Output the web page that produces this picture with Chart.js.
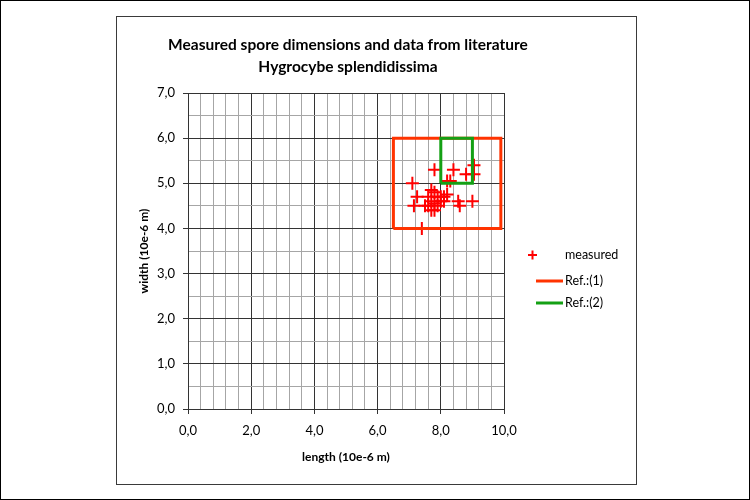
<!DOCTYPE html>
<html>
<head>
<meta charset="utf-8">
<script src="https://cdn.jsdelivr.net/npm/chart.js@4"></script>
<style>
  html, body { margin: 0; padding: 0; background: #fff; }
  #wrap { width: 750px; height: 500px; position: relative; }
</style>
</head>
<body>
<div id="wrap"><canvas id="chart" width="750" height="500"></canvas></div>
<script>
// spore measurements, length / width in 10e-6 m
const measuredLength = [7.1, 7.25, 7.15, 7.4, 7.8, 8.4, 8.8, 9.05, 9.05, 8.2, 8.3,
    7.7, 7.8, 7.6, 7.9, 8.0, 8.1, 8.2, 7.5, 7.6, 7.7, 7.8, 7.9, 8.0, 8.1, 7.7, 7.8,
    8.55, 8.6, 9.0];
const measuredWidth = [5.0, 4.7, 4.5, 4.0, 5.3, 5.3, 5.2, 5.4, 5.2, 5.05, 5.05,
    4.85, 4.8, 4.7, 4.7, 4.7, 4.7, 4.75, 4.5, 4.5, 4.4, 4.4, 4.5, 4.6, 4.6, 4.6, 4.55,
    4.6, 4.5, 4.6];

// literature ranges: [min length, max length], [min width, max width]
const ref1Length = [6.5, 9.9];
const ref1Width = [4.0, 6.0];
const ref2Length = [8.0, 9.0];
const ref2Width = [5.0, 6.0];

const xTicks = [0, 2, 4, 6, 8, 10];
const yTicks = [0, 1, 2, 3, 4, 5, 6, 7];

const titleLines = ['Measured spore dimensions and data from literature', 'Hygrocybe splendidissima'];
const seriesNames = ['measured', 'Ref.:(1)', 'Ref.:(2)'];

const RED = '#ff0000';
const REF1 = '#ff3300';
const REF2 = '#14a014';
const FONT = 'Lato, "Open Sans", sans-serif';

function box(len, wid) {
    return [
        { x: len[0], y: wid[0] }, { x: len[1], y: wid[0] },
        { x: len[1], y: wid[1] }, { x: len[0], y: wid[1] },
        { x: len[0], y: wid[0] }
    ];
}

const isMajor = (v, step) => Math.abs(v / step - Math.round(v / step)) < 1e-6;
const fmt = v => v.toFixed(1).replace('.', ',');

// frame, title and legend drawn around the plot
const decorations = {
    id: 'decorations',
    beforeDraw(chart) {
        const ctx = chart.ctx;
        ctx.save();
        ctx.fillStyle = '#fff';
        ctx.fillRect(0, 0, 750, 500);
        ctx.strokeStyle = '#000';
        ctx.lineWidth = 1;
        ctx.strokeRect(0.5, 0.5, 749, 499);
        ctx.strokeStyle = '#3a3a3a';
        ctx.strokeRect(116.5, 16.5, 520, 468);
        ctx.restore();
    },
    afterDraw(chart) {
        const ctx = chart.ctx;
        const area = chart.chartArea;
        const cx = (area.left + area.right) / 2 + 2;
        ctx.save();
        ctx.fillStyle = '#000';
        ctx.font = 'bold 15.5px ' + FONT;
        ctx.textAlign = 'center';
        ctx.textBaseline = 'middle';
        ctx.fillText(titleLines[0], cx, 45);
        ctx.fillText(titleLines[1], cx, 67);

        // legend
        ctx.font = '12.5px ' + FONT;
        ctx.textAlign = 'left';
        const ly = [255, 281, 303];
        ctx.strokeStyle = RED;
        ctx.lineWidth = 2;
        ctx.beginPath();
        ctx.moveTo(528, ly[0]); ctx.lineTo(537, ly[0]);
        ctx.moveTo(532.5, ly[0] - 4.5); ctx.lineTo(532.5, ly[0] + 4.5);
        ctx.stroke();
        ctx.lineWidth = 3;
        ctx.strokeStyle = REF1;
        ctx.beginPath(); ctx.moveTo(536, ly[1]); ctx.lineTo(563, ly[1]); ctx.stroke();
        ctx.strokeStyle = REF2;
        ctx.beginPath(); ctx.moveTo(536, ly[2]); ctx.lineTo(563, ly[2]); ctx.stroke();
        ctx.fillStyle = '#000';
        ctx.fillText(seriesNames[0], 565, ly[0]);
        ctx.fillText(seriesNames[1], 565, ly[1]);
        ctx.fillText(seriesNames[2], 565, ly[2]);
        ctx.restore();
    }
};

const ctx = document.getElementById('chart').getContext('2d');
new Chart(ctx, {
    type: 'scatter',
    data: {
        datasets: [
            {
                label: seriesNames[0],
                data: measuredLength.map((x, i) => ({ x: x, y: measuredWidth[i] })),
                pointStyle: 'cross',
                pointRadius: 6.5,
                pointBorderWidth: 2,
                borderColor: RED,
                backgroundColor: RED,
                order: 3
            },
            {
                label: seriesNames[1],
                data: box(ref1Length, ref1Width),
                showLine: true,
                borderColor: REF1,
                borderWidth: 3,
                pointRadius: 0,
                order: 2
            },
            {
                label: seriesNames[2],
                data: box(ref2Length, ref2Width),
                showLine: true,
                borderColor: REF2,
                borderWidth: 3,
                pointRadius: 0,
                order: 1
            }
        ]
    },
    plugins: [decorations],
    options: {
        responsive: false,
        animation: false,
        layout: {
            padding: { left: 137, right: 246, top: 93, bottom: 36 }
        },
        plugins: {
            legend: { display: false },
            title: { display: false },
            tooltip: { enabled: false }
        },
        scales: {
            x: {
                type: 'linear',
                min: xTicks[0],
                max: xTicks[xTicks.length - 1],
                afterFit: scale => { scale.height = 55; },
                ticks: {
                    stepSize: 0.4,
                    autoSkip: false,
                    maxRotation: 0,
                    padding: 9,
                    color: '#000',
                    font: { family: FONT, size: 13 },
                    callback: v => (isMajor(v, 2) ? fmt(v) : '')
                },
                grid: {
                    color: c => (isMajor(c.tick.value, 2) ? '#333' : '#a6a6a6'),
                    tickColor: c => (isMajor(c.tick.value, 2) ? '#333' : 'rgba(0,0,0,0)'),
                    tickLength: 5,
                    lineWidth: 1
                },
                border: { color: '#333', width: 1 },
                title: {
                    display: true,
                    text: 'length (10e-6 m)',
                    color: '#000',
                    font: { family: FONT, size: 12, weight: 'bold' },
                    padding: 0
                }
            },
            y: {
                type: 'linear',
                min: yTicks[0],
                max: yTicks[yTicks.length - 1],
                afterFit: scale => { scale.width = 51; },
                ticks: {
                    stepSize: 0.5,
                    autoSkip: false,
                    padding: 8,
                    color: '#000',
                    font: { family: FONT, size: 13 },
                    callback: v => (isMajor(v, 1) ? fmt(v) : '')
                },
                grid: {
                    color: c => (isMajor(c.tick.value, 1) ? '#333' : '#a6a6a6'),
                    tickColor: c => (isMajor(c.tick.value, 1) ? '#333' : 'rgba(0,0,0,0)'),
                    tickLength: 5,
                    lineWidth: 1
                },
                border: { color: '#333', width: 1 },
                title: {
                    display: true,
                    text: 'width (10e-6 m)',
                    color: '#000',
                    font: { family: FONT, size: 12, weight: 'bold' },
                    padding: 0
                }
            }
        }
    }
});
</script>
</body>
</html>
